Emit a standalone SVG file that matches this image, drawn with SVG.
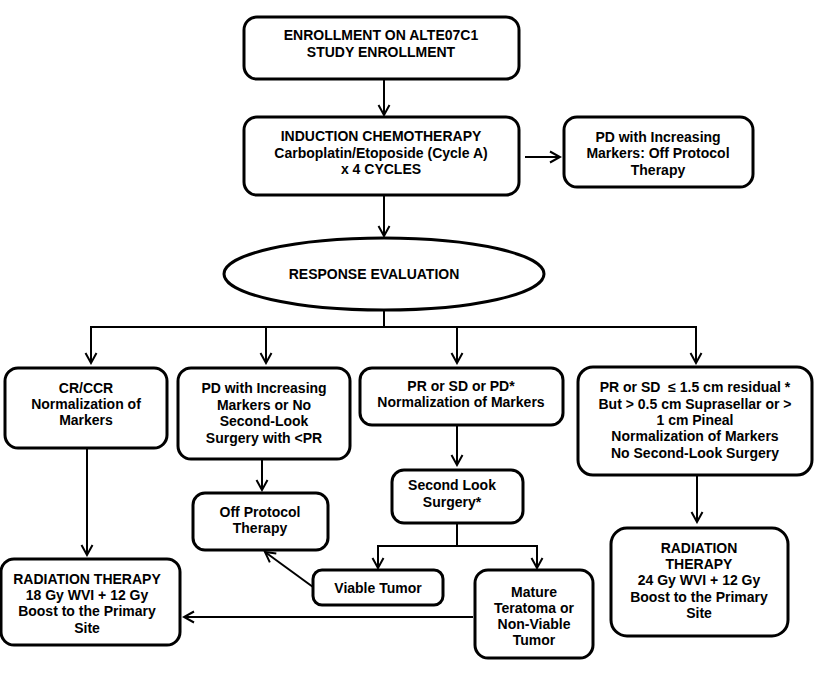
<svg xmlns="http://www.w3.org/2000/svg" width="820" height="675" viewBox="0 0 820 675">
<defs>
<marker id="arr" markerUnits="userSpaceOnUse" markerWidth="14" markerHeight="14" viewBox="0 0 14 14" refX="12" refY="7" orient="auto">
<path d="M2,1.5 L12,7 L2,12.5" fill="none" stroke="#000" stroke-width="2"/>
</marker>
</defs>
<style>
.box{fill:#fff;stroke:#000;stroke-width:3}
.t{font-family:"Liberation Sans",Arial,sans-serif;font-weight:bold;font-size:14px;text-anchor:middle;fill:#000}
.c{fill:none;stroke:#000;stroke-width:2}
</style>
<rect width="820" height="675" fill="#fff"/>
<g id="connectors">
<line class="c" x1="384" y1="80" x2="384" y2="115" marker-end="url(#arr)"/>
<line class="c" x1="525" y1="157" x2="560" y2="157" marker-end="url(#arr)"/>
<line class="c" x1="384" y1="196" x2="384" y2="236" marker-end="url(#arr)"/>
<polyline class="c" points="384,310 384,327"/>
<line class="c" x1="91" y1="327" x2="696" y2="327"/>
<line class="c" x1="91" y1="326" x2="91" y2="363" marker-end="url(#arr)"/>
<line class="c" x1="266" y1="326" x2="266" y2="363" marker-end="url(#arr)"/>
<line class="c" x1="457" y1="326" x2="457" y2="363" marker-end="url(#arr)"/>
<line class="c" x1="696" y1="326" x2="696" y2="363" marker-end="url(#arr)"/>
<line class="c" x1="87" y1="449" x2="87" y2="555" marker-end="url(#arr)"/>
<line class="c" x1="262" y1="460" x2="262" y2="490" marker-end="url(#arr)"/>
<line class="c" x1="457" y1="426" x2="457" y2="465" marker-end="url(#arr)"/>
<polyline class="c" points="457,524 457,546"/>
<line class="c" x1="378" y1="546" x2="537" y2="546"/>
<line class="c" x1="378" y1="545" x2="378" y2="568" marker-end="url(#arr)"/>
<line class="c" x1="537" y1="545" x2="537" y2="568" marker-end="url(#arr)"/>
<line class="c" x1="313" y1="587" x2="265" y2="552" marker-end="url(#arr)"/>
<line class="c" x1="473" y1="617" x2="184" y2="617" marker-end="url(#arr)"/>
<line class="c" x1="697" y1="476" x2="697" y2="522" marker-end="url(#arr)"/>
</g>
<g id="enroll">
<rect class="box" x="244" y="17" width="275" height="62" rx="13"/>
<text class="t" x="381" y="40">ENROLLMENT ON ALTE07C1</text>
<text class="t" x="381" y="57">STUDY ENROLLMENT</text>
</g>
<g id="induction">
<rect class="box" x="244" y="117" width="275" height="78" rx="13"/>
<text class="t" x="381" y="141">INDUCTION CHEMOTHERAPY</text>
<text class="t" x="381" y="158">Carboplatin/Etoposide (Cycle A)</text>
<text class="t" x="381" y="174">x 4 CYCLES</text>
</g>
<g id="pd-off">
<rect class="box" x="564" y="117" width="189" height="70" rx="13"/>
<text class="t" x="658" y="142">PD with Increasing</text>
<text class="t" x="658" y="158">Markers: Off Protocol</text>
<text class="t" x="658" y="175">Therapy</text>
</g>
<g id="response">
<ellipse class="box" cx="384" cy="274" rx="160" ry="36"/>
<text class="t" x="374" y="279">RESPONSE EVALUATION</text>
</g>
<g id="crccr">
<rect class="box" x="5" y="368" width="162" height="80" rx="13"/>
<text class="t" x="86" y="393">CR/CCR</text>
<text class="t" x="86" y="409">Normalization of</text>
<text class="t" x="86" y="425">Markers</text>
</g>
<g id="pd-nosurg">
<rect class="box" x="178" y="368" width="172" height="91" rx="13"/>
<text class="t" x="264" y="393">PD with Increasing</text>
<text class="t" x="264" y="410">Markers or No</text>
<text class="t" x="264" y="426">Second-Look</text>
<text class="t" x="264" y="443">Surgery with &lt;PR</text>
</g>
<g id="prsdpd">
<rect class="box" x="360" y="368" width="203" height="57" rx="12"/>
<text class="t" x="461" y="391">PR or SD or PD*</text>
<text class="t" x="461" y="407">Normalization of Markers</text>
</g>
<g id="prsd-small">
<rect class="box" x="578" y="367" width="234" height="108" rx="15"/>
<text class="t" x="695" y="392">PR or SD &#160;≤ 1.5 cm residual *</text>
<text class="t" x="695" y="409">But &gt; 0.5 cm Suprasellar or &gt;</text>
<text class="t" x="695" y="425">1 cm Pineal</text>
<text class="t" x="695" y="441">Normalization of Markers</text>
<text class="t" x="695" y="458">No Second-Look Surgery</text>
</g>
<g id="offprotocol">
<rect class="box" x="193" y="493" width="135" height="57" rx="12"/>
<text class="t" x="260" y="517">Off Protocol</text>
<text class="t" x="260" y="533">Therapy</text>
</g>
<g id="secondlook">
<rect class="box" x="392" y="470" width="131" height="53" rx="12"/>
<text class="t" x="452" y="490">Second Look</text>
<text class="t" x="452" y="507">Surgery*</text>
</g>
<g id="viable">
<rect class="box" x="313" y="570" width="130" height="35" rx="9"/>
<text class="t" x="378" y="593">Viable Tumor</text>
</g>
<g id="mature">
<rect class="box" x="475" y="570" width="118" height="88" rx="13"/>
<text class="t" x="534" y="597">Mature</text>
<text class="t" x="534" y="613">Teratoma or</text>
<text class="t" x="534" y="629">Non-Viable</text>
<text class="t" x="534" y="645">Tumor</text>
</g>
<g id="rad-left">
<rect class="box" x="1" y="559" width="179" height="86" rx="13"/>
<text class="t" x="87" y="584">RADIATION THERAPY</text>
<text class="t" x="87" y="600">18 Gy WVI + 12 Gy</text>
<text class="t" x="87" y="616">Boost to the Primary</text>
<text class="t" x="87" y="633">Site</text>
</g>
<g id="rad-right">
<rect class="box" x="611" y="528" width="177" height="108" rx="16"/>
<text class="t" x="699" y="553">RADIATION</text>
<text class="t" x="699" y="569">THERAPY</text>
<text class="t" x="699" y="585">24 Gy WVI + 12 Gy</text>
<text class="t" x="699" y="602">Boost to the Primary</text>
<text class="t" x="699" y="618">Site</text>
</g>
</svg>
